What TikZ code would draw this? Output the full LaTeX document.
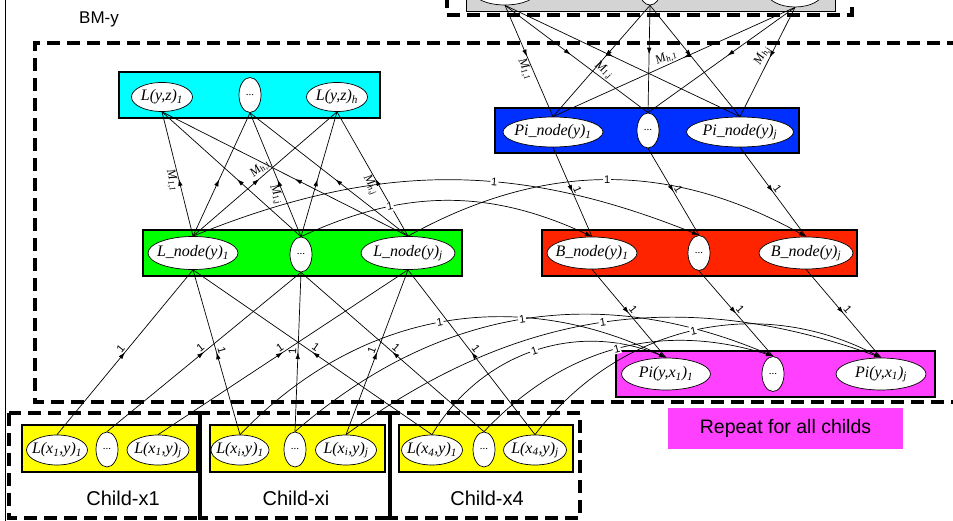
\documentclass[tikz,border=0pt]{standalone}
\usepackage{fontspec}
\setmainfont{Liberation Serif}
\newfontfamily\sansf{Liberation Sans}
\usetikzlibrary{arrows.meta,decorations.markings,shapes.geometric}
\definecolor{cyanb}{RGB}{0,255,255}
\definecolor{blueb}{RGB}{0,48,255}
\definecolor{greenb}{RGB}{0,255,0}
\definecolor{redb}{RGB}{255,36,0}
\definecolor{pinkb}{RGB}{255,64,255}
\definecolor{yellowb}{RGB}{255,255,0}
\definecolor{grayb}{RGB}{212,212,212}
\newcommand\sbs[1]{\textsubscript{#1}}
\newcommand\enode[6]{%
  \node[ell,minimum width=#4pt,minimum height=#5pt] (#1) at (#2,-#3) {};
  \node[etext] (#1-t) at (#1.center) {#6};}
\newcommand\dnode[3]{%
  \node[ell,minimum width=22pt,minimum height=35pt] (#1) at (#2,-#3) {};
  \node[dtext] (#1-t) at (#1.center) {...};}
\tikzset{
 ell/.style={ellipse,draw,fill=white,line width=0.7pt,inner sep=0pt},
 etext/.style={font=\fontsize{16}{16}\selectfont\itshape,inner sep=0pt},
 dtext/.style={font=\fontsize{11}{11}\selectfont,inner sep=0pt},
 cbox/.style={draw,line width=1.5pt,inner sep=0pt},
 dashbox/.style={line width=3.2pt,dash pattern=on 13pt off 7pt},
 edge/.style={line width=0.7pt},
 midarrow/.style={decoration={markings,mark=at position #1 with {\arrow{Latex[length=7pt,width=4.5pt]}}},postaction={decorate}},
 midarrow/.default=0.5,
 endarrow/.style={-{Latex[length=7pt,width=4.5pt]}},
 onelab/.style={font=\sansf\fontsize{11}{11}\selectfont,sloped,inner sep=1.5pt},
 curvelab/.style={onelab,fill=white,inner sep=1pt},
 mlab/.style={font=\fontsize{12.5}{12.5}\selectfont\itshape,sloped,inner sep=1pt},
 sanstxt/.style={font=\sansf\fontsize{20}{20}\selectfont},
}
\begin{document}
\begin{tikzpicture}[x=1pt,y=1pt]
\useasboundingbox (0,0) rectangle (953,-521);
\clip (0,0) rectangle (953,-521);

% outer frame
\draw[line width=0.9pt] (5,5) -- (5,-530);
\node[font=\sansf\fontsize{17}{17}\selectfont] (bmy) at (99,-19) {BM-y};

% top gray block
\draw[dashbox] (447,5) -- (447,-15) -- (852,-15) -- (852,5);
\node[cbox,line width=0.9pt,fill=grayb,minimum width=369pt,minimum height=40pt] (gbox) at (650.5,9) {};
\node[ell,minimum width=64pt,minimum height=28pt] (g1) at (505,9) {};
\node[ell,minimum width=20pt,minimum height=26pt] (g2) at (650,8) {};
\node[ell,minimum width=56pt,minimum height=30pt] (g3) at (795,8) {};

% main dashed region
\draw[dashbox] (960,-43) -- (35,-43) -- (35,-402) -- (960,-402);

% cyan
\node[cbox,fill=cyanb,minimum width=261pt,minimum height=46pt] (zbox) at (249.5,-95) {};
\enode{z1}{162}{97}{61}{29}{L(y,z)\sbs{1}}
\dnode{zd}{250}{95}
\enode{zh}{337}{97}{61}{29}{L(y,z)\sbs{h}}

% blue
\node[cbox,fill=blueb,minimum width=304pt,minimum height=45pt] (pbox) at (647,-130.5) {};
\enode{p1}{553}{132}{100}{30}{Pi\_node(y)\sbs{1}}
\dnode{pd}{648}{130.5}
\enode{pj}{740}{132}{107}{30}{Pi\_node(y)\sbs{j}}

% green
\node[cbox,fill=greenb,minimum width=319pt,minimum height=46pt] (lbox) at (302.5,-253) {};
\enode{l1}{193}{253}{90}{33}{L\_node(y)\sbs{1}}
\dnode{ld}{301}{254.5}
\enode{lj}{408}{253}{94}{33}{L\_node(y)\sbs{j}}

% red
\node[cbox,fill=redb,minimum width=315pt,minimum height=46pt] (bbox) at (699.5,-253) {};
\enode{b1}{592}{253}{90}{32}{B\_node(y)\sbs{1}}
\dnode{bd}{699}{253}
\enode{bj}{806}{253}{94}{32}{B\_node(y)\sbs{j}}

% pink
\node[cbox,fill=pinkb,minimum width=319pt,minimum height=46pt] (qbox) at (775.5,-374) {};
\enode{q1}{666}{374}{89}{32}{Pi(y,x\sbs{1})\sbs{1}}
\dnode{qd}{773}{374}
\enode{qj}{881}{374}{90}{32}{Pi(y,x\sbs{1})\sbs{j}}

\node[fill=pinkb,minimum width=235pt,minimum height=41pt,inner sep=0pt,font=\sansf\fontsize{19.5}{19.5}\selectfont] (rep) at (785.5,-428.5) {Repeat for all childs};

% children
\draw[dashbox] (9,-413) rectangle (200,-518);
\draw[dashbox] (200,-413) rectangle (390,-518);
\draw[dashbox] (390,-413) rectangle (580,-518);
\node[cbox,fill=yellowb,minimum width=175pt,minimum height=47pt] (y1box) at (109.5,-448.5) {};
\node[cbox,fill=yellowb,minimum width=175pt,minimum height=47pt] (y2box) at (297.5,-448.5) {};
\node[cbox,fill=yellowb,minimum width=174pt,minimum height=47pt] (y3box) at (486,-448.5) {};
\enode{c1a}{57}{450}{61}{30}{L(x\sbs{1},y)\sbs{1}}
\dnode{c1d}{107}{449.5}
\enode{c1b}{158}{450}{62}{30}{L(x\sbs{1},y)\sbs{j}}
\enode{c2a}{240}{450}{58}{30}{L(x\sbs{i},y)\sbs{1}}
\dnode{c2d}{295}{449.5}
\enode{c2b}{346}{450}{61}{30}{L(x\sbs{i},y)\sbs{j}}
\enode{c3a}{432}{450}{61}{30}{L(x\sbs{4},y)\sbs{1}}
\dnode{c3d}{484}{449.5}
\enode{c3b}{535}{450}{63}{30}{L(x\sbs{4},y)\sbs{j}}
\node[sanstxt] (ch1) at (123,-498) {Child-x1};
\node[sanstxt] (ch2) at (296,-498) {Child-xi};
\node[sanstxt] (ch3) at (487,-498) {Child-x4};

% gray -> Pi_node
\foreach \src in {g1,g2,g3}{\foreach \dst in {p1,pd,pj}{\draw[edge,midarrow=0.46] (\src.south) -- (\dst.north);}}
\path (g1.south) -- (p1.north) node[mlab,pos=0.55,below] (m1) {M\sbs{1,1}};
\path (g1.south) -- (pd.north) node[mlab,pos=0.66,above] (m2) {M\sbs{1,j}};
\path (g3.south) -- (p1.north) node[mlab,pos=0.52,above] (m3) {M\sbs{h,1}};
\path (g3.south) -- (pj.north) node[mlab,pos=0.47,above] (m4) {M\sbs{h,j}};

% L_node -> L(y,z)
\foreach \src in {l1,ld,lj}{\foreach \dst in {z1,zd,zh}{\draw[edge,midarrow=0.46] (\src.north) -- (\dst.south);}}
\path (l1.north) -- (z1.south) node[mlab,pos=0.46,below] (m5) {M\sbs{1,1}};
\path (l1.north) -- (zh.south) node[mlab,pos=0.5,above] (m6) {M\sbs{h,1}};
\path (ld.north) -- (zd.south) node[mlab,pos=0.36,below] (m7) {M\sbs{1,j}};
\path (lj.north) -- (zh.south) node[mlab,pos=0.44,below] (m8) {M\sbs{h,j}};

% Pi_node -> B_node
\draw[edge,midarrow] (p1.south) -- node[onelab,above] (o1) {1} (b1.north);
\draw[edge,midarrow] (pd.south) -- node[onelab,above] (o2) {1} (bd.north);
\draw[edge,midarrow] (pj.south) -- node[onelab,above] (o3) {1} (bj.north);

% B_node -> Pi(y,x)
\draw[edge,midarrow] (b1.south) -- node[onelab,above] (o4) {1} (q1.north);
\draw[edge,midarrow] (bd.south) -- node[onelab,above] (o5) {1} (qd.north);
\draw[edge,midarrow] (bj.south) -- node[onelab,above] (o6) {1} (qj.north);

% L_node -> B_node curves
\draw[edge,endarrow] (ld.north) to[bend left=25] node[curvelab,pos=0.3] (k1) {1} (b1.north);
\draw[edge,endarrow] (l1.north) to[bend left=22] node[curvelab,pos=0.6] (k2) {1} (bd.north);
\draw[edge,endarrow] (lj.north) to[bend left=29] node[curvelab] (k3) {1} (bj.north);

% children -> L_node
\foreach \src/\dst in {c1a/l1,c2a/l1,c3a/l1,c1d/ld,c2d/ld,c3d/ld,c1b/lj,c2b/lj,c3b/lj}
  {\draw[edge,midarrow] (\src.north) -- node[onelab,above] {1} (\dst.south);}

% children -> Pi(y,x) curves
\draw[edge,endarrow] (c2a.north) to[bend left=36] node[curvelab] (k4) {1} (q1.north);
\draw[edge,endarrow] (c3a.north) to[bend left=41] node[curvelab] (k5) {1} (q1.north);
\draw[edge,endarrow] (c2d.north) to[bend left=32] node[curvelab] (k6) {1} (qd.north);
\draw[edge,endarrow] (c3d.north) to[bend left=32] node[curvelab] (k7) {1} (qd.north);
\draw[edge,endarrow] (c2b.north) to[bend left=28] node[curvelab] (k8) {1} (qj.north);
\draw[edge,endarrow] (c3b.north) to[bend left=40] node[curvelab] (k9) {1} (qj.north);
\end{tikzpicture}
\end{document}
